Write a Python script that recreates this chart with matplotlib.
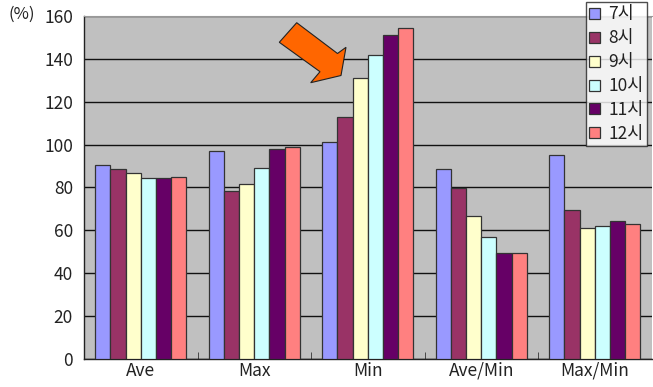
import matplotlib
matplotlib.use("Agg")
import matplotlib.pyplot as plt
from matplotlib.patches import Polygon
import numpy as np

plt.rcParams['font.family'] = ['Noto Sans CJK KR', 'DejaVu Sans']

categories = ["Ave", "Max", "Min", "Ave/Min", "Max/Min"]
series_names = ["7시", "8시", "9시", "10시", "11시", "12시"]
colors = ["#9999FF", "#993366", "#FFFFCC", "#CCFFFF", "#660066", "#FF8080"]

v7 = [90.5, 97.0, 101.1, 88.6, 95.3]
v8 = [88.6, 78.5, 113.0, 79.6, 69.5]
v9 = [86.9, 81.5, 131.2, 66.8, 61.3]
v10 = [84.4, 89.2, 141.9, 57.1, 62.0]
v11 = [84.4, 98.1, 151.1, 49.6, 64.4]
v12 = [85.0, 98.7, 154.4, 49.6, 63.1]
series = [v7, v8, v9, v10, v11, v12]

yticks = [0, 20, 40, 60, 80, 100, 120, 140, 160]

W, H = 653, 387
fig = plt.figure(figsize=(W / 100, H / 100), dpi=100)
ax = fig.add_axes([84 / W, (H - 359) / H, (651.5 - 84) / W, 343 / H])
ax.set_facecolor("#C0C0C0")

x = np.arange(len(categories))
bw = 0.134
for i, (vals, c, name) in enumerate(zip(series, colors, series_names)):
    ax.bar(x + (i - 2.5) * bw, vals, width=bw, color=c, edgecolor="#333333",
           linewidth=0.9, label=name, zorder=3)

ax.set_xlim(-0.5, len(categories) - 0.5)
ax.set_ylim(0, 160)
ax.set_yticks(yticks)
ax.set_yticklabels([str(t) for t in yticks], fontsize=12.5, color="#222222")
ax.yaxis.grid(True, color="#111111", linewidth=1.0, zorder=0)
ax.set_axisbelow(True)
ax.tick_params(axis="y", length=0, pad=8)
ax.set_xticks(x)
ax.set_xticklabels(categories, fontsize=12.5, color="#222222")
ax.tick_params(axis="x", which="major", length=0, pad=2)
ax.set_xticks(np.arange(0.5, len(categories) - 0.5, 1.0), minor=True)
ax.tick_params(axis="x", which="minor", length=5, direction="in", color="#333333")

for s in ["left", "bottom"]:
    ax.spines[s].set_color("#222222")
    ax.spines[s].set_linewidth(1.0)
ax.spines["top"].set_color("#999999")
ax.spines["right"].set_visible(False)

fig.text(8 / W, 1 - 14 / H, "(%)", fontsize=12, color="#222222", va="center", ha="left")

leg = ax.legend(loc="upper left", bbox_to_anchor=((586 - 84) / (651.5 - 84), 1 + 14 / 343),
                fontsize=12.5, frameon=True, fancybox=False, borderpad=0.2,
                labelspacing=0.34, handlelength=0.6, handleheight=0.6,
                handletextpad=0.5, borderaxespad=0)
leg.get_frame().set_edgecolor("#222222")
leg.get_frame().set_linewidth(1.0)
leg.get_frame().set_facecolor("white")
leg.set_zorder(10)
for t in leg.get_texts():
    t.set_color("#222222")

# Orange arrow annotation (figure pixel coordinates)
pts = [(279.3, 42.3), (296.7, 22.7), (337.5, 53.5), (346, 47.3), (341, 75.5),
       (310.7, 82.7), (320, 71.7)]
pts_fig = [(px / W, 1 - py / H) for px, py in pts]
arrow = Polygon(pts_fig, closed=True, transform=fig.transFigure, facecolor="#FF6600",
                edgecolor="#222222", linewidth=0.8, zorder=20)
fig.patches.append(arrow)

fig.savefig("out.png", dpi=100)
